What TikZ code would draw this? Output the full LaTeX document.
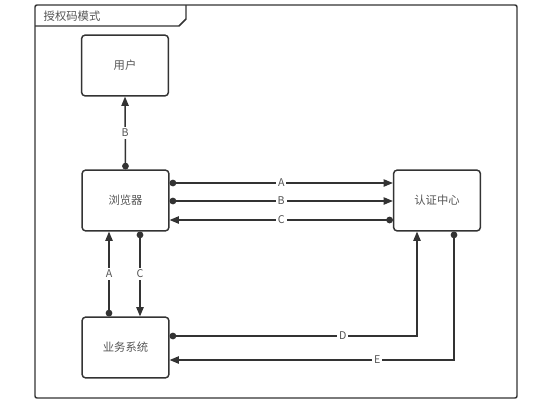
\documentclass[tikz,border=0pt]{standalone}
\usepackage{fontspec}
\setmainfont{Noto Sans CJK SC}
\usetikzlibrary{arrows.meta}

\definecolor{linegray}{HTML}{333333}
\definecolor{textgray}{HTML}{555555}

\tikzset{
    box/.style={draw=linegray, line width=1.1pt, rounded corners=2.5pt,
        minimum width=65pt, minimum height=45.5pt, text=textgray,
        font=\fontsize{8.5pt}{9pt}\selectfont},
    flow/.style={draw=linegray, line width=1.1pt,
        arrows={Circle[length=5pt]-Triangle[length=7pt,width=5.5pt]}},
    lbl/.style={fill=white, inner sep=1.5pt, text=textgray,
        font=\fontsize{8pt}{8.5pt}\selectfont}
}

\begin{document}
\begin{tikzpicture}[x=0.75pt, y=-0.75pt]
        \useasboundingbox (0,0) rectangle (554,405);

        % frame
        \draw[linegray, line width=1.1pt, rounded corners=1.5pt] (35,5) rectangle (517,398);
        \draw[linegray, line width=1.1pt] (35,26) -- (179,26) -- (186,19) -- (186,5);
        \node[anchor=west, text=textgray, font=\fontsize{8.5pt}{9pt}\selectfont] (title) at (39,16) {授权码模式};

        % boxes
        \node[box] (user) at (125,65.5) {用户};
        \node[box] (browser) at (125.5,200.5) {浏览器};
        \node[box] (auth) at (437,200.5) {认证中心};
        \node[box] (biz) at (125.5,347.5) {业务系统};

        % browser - user
        \draw[flow] (browser.north) -- (user.south) node[lbl, midway]{B};

        % browser - auth
        \draw[flow] (browser.east |- 0,183) -- (auth.west |- 0,183) node[lbl, midway]{A};
        \draw[flow] (browser.east |- 0,201) -- (auth.west |- 0,201) node[lbl, midway]{B};
        \draw[flow] (auth.west |- 0,220) -- (browser.east |- 0,220) node[lbl, midway]{C};

        % browser - biz
        \draw[flow] (biz.north -| 109,0) -- (browser.south -| 109,0) node[lbl, midway]{A};
        \draw[flow] (browser.south -| 140,0) -- (biz.north -| 140,0) node[lbl, midway]{C};

        % biz - auth
        \draw[flow] (biz.east |- 0,336) -- (417,336) node[lbl, pos=0.7]{D} -- (auth.south -| 417,0);
        \draw[flow] (auth.south -| 454,0) -- (454,360) -- (biz.east |- 0,360) node[lbl, pos=0.27]{E};
\end{tikzpicture}
\end{document}
